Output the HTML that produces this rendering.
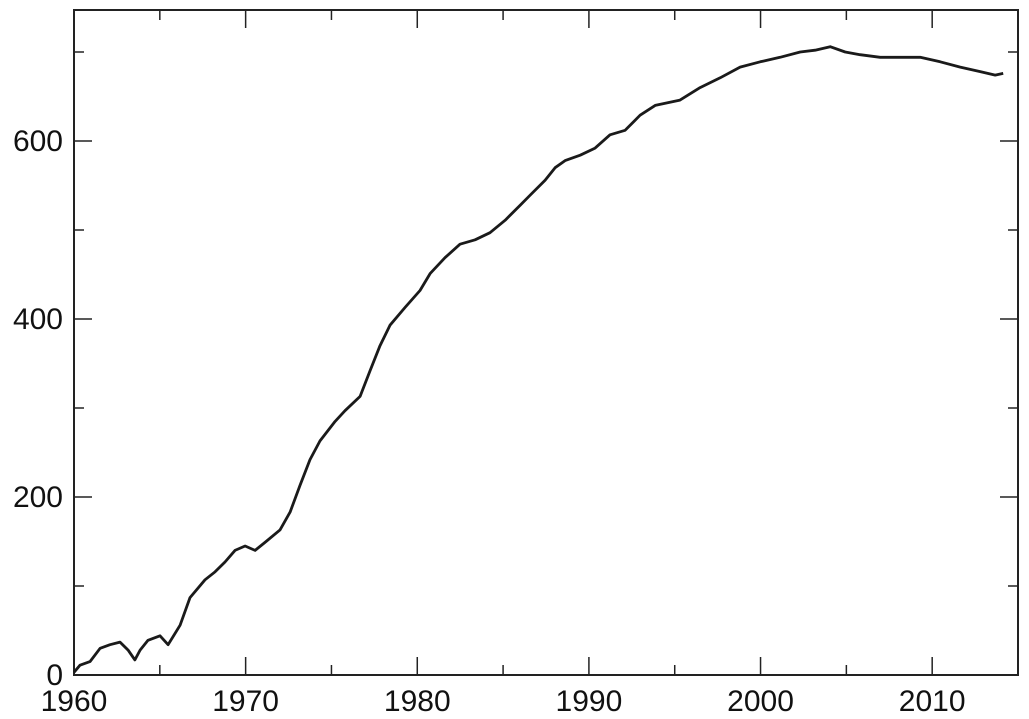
<!DOCTYPE html>
<html><head><meta charset="utf-8"><style>
html,body{margin:0;padding:0;background:#fff;}
svg{display:block;font-family:"Liberation Sans",Arial,sans-serif;}
</style></head><body>
<svg id="chart" width="1029" height="719" viewBox="0 0 1029 719"></svg>
<script>
const years=[1960.0,1960.35,1960.93,1961.52,1962.1,1962.68,1963.15,1963.55,1963.85,1964.31,1965.01,1965.48,1966.18,1966.76,1967.63,1968.22,1968.8,1969.38,1969.97,1970.55,1971.13,1972.0,1972.59,1973.17,1973.75,1974.33,1975.21,1975.79,1976.67,1977.25,1977.83,1978.41,1979.29,1980.16,1980.75,1981.62,1982.49,1983.37,1984.24,1985.12,1986.0,1986.57,1987.45,1988.03,1988.61,1989.49,1990.36,1991.23,1992.11,1992.98,1993.86,1995.31,1996.48,1997.65,1998.81,1999.98,2001.14,2002.31,2003.18,2004.06,2004.93,2005.8,2006.97,2008.14,2009.3,2010.47,2011.63,2012.8,2013.67,2014.14];
const values=[3,11,15,30,34,37,28,17,28,39,44,34,56,87,107,116,127,140,145,140,149,163,183,213,242,263,285,297,313,342,370,393,413,432,451,469,484,489,497,511,528,539,556,570,578,584,592,607,612,629,640,646,660,671,683,689,694,700,702,706,700,697,694,694,694,689,683,678,674,676];
const xTickLabels=[1960,1970,1980,1990,2000,2010];
const yTickLabels=[0,200,400,600];
const NS="http://www.w3.org/2000/svg";
const svg=document.getElementById('chart');
const L=74,R=1018,T=10,B=675;
const X=y=>L+(y-1960)*(R-L)/55;
const Y=v=>B-v*0.89;
function mk(t,a){const e=document.createElementNS(NS,t);for(const k in a)e.setAttribute(k,a[k]);svg.appendChild(e);return e;}
const frame=mk('rect',{x:L,y:T,width:R-L,height:B-T,fill:'none',stroke:'#222','stroke-width':2});


for(let yr=1960;yr<=2015;yr+=5){
  const len=(yr%10===0)?18:10;const x=X(yr);
  const t1=mk('line',{x1:x,x2:x,y1:B,y2:B-len,stroke:'#222','stroke-width':1.5});
  
  
  const t2=mk('line',{x1:x,x2:x,y1:T,y2:T+len,stroke:'#222','stroke-width':1.5});
  
  
}
for(let v=0;v<=700;v+=100){
  const len=(v%200===0)?18:10;const y=Y(v);
  const t1=mk('line',{x1:L,x2:L+len,y1:y,y2:y,stroke:'#222','stroke-width':1.5});
  
  
  const t2=mk('line',{x1:R,x2:R-len,y1:y,y2:y,stroke:'#222','stroke-width':1.5});
  
  
}
xTickLabels.forEach(yr=>{
  const t=mk('text',{x:X(yr),y:711,'text-anchor':'middle','font-size':30,fill:'#111'});
  t.textContent=yr;
  
  
});
yTickLabels.forEach(v=>{
  const t=mk('text',{x:63,y:Y(v)+10,'text-anchor':'end','font-size':30,fill:'#111'});
  t.textContent=v;
  
  
});
const d=years.map((yr,i)=>(i?'L':'M')+X(yr).toFixed(1)+','+Y(values[i]).toFixed(1)).join(' ');
const p=mk('path',{d:d,fill:'none',stroke:'#1a1a1a','stroke-width':2.8,'stroke-linejoin':'round'});


</script>
</body></html>
